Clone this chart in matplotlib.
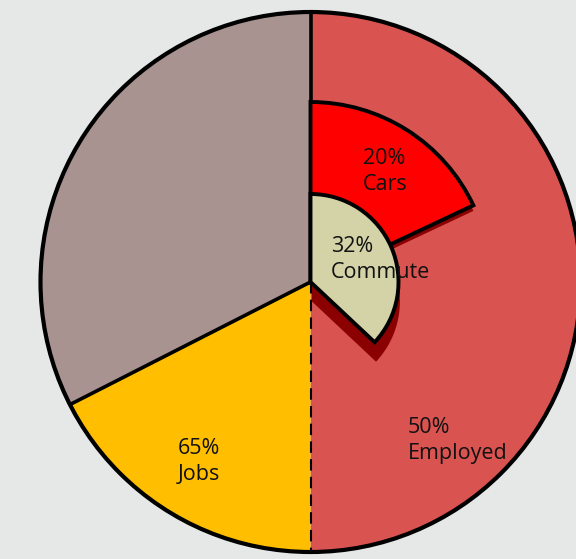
import numpy as np
import matplotlib.pyplot as plt
from matplotlib import patheffects

# Outer ring (share of the full circle)
outer_names = ['Employed', 'Jobs', 'Other']
outer_values = [50, 17.5, 32.5]
outer_pct = ['50%', '65%', '']
outer_colors = ['#d95350', '#ffbf00', '#a89391']

# Inner highlight wedges (angular share of the circle as drawn)
inner_names = ['Cars', 'Commute']
inner_values = [18, 37]
inner_pct = ['20%', '32%']
inner_colors = ['#ff0000', '#d3d3a7']

bg = '#e6e8e7'
fig = plt.figure(figsize=(5.76, 5.59), dpi=100, facecolor=bg)
ax = fig.add_axes([0, 0, 1, 1])
ax.set_facecolor(bg)

cx, cy, R = 310.5, 277, 270
inner_r = [180, 88]
shadow_off = [(0, -4), (1, -14)]

wedges, _ = ax.pie(outer_values, colors=outer_colors, startangle=90,
                   counterclock=False, radius=R, center=(cx, cy),
                   wedgeprops=dict(linewidth=0))

# outline of the big circle
ax.add_patch(plt.Circle((cx, cy), R, fill=False, lw=3, ec='black', zorder=3))

# radial boundaries
bounds = 90 - 360 * np.cumsum([0] + outer_values[:-1]) / sum(outer_values)
for i, a in enumerate(bounds):
    if i == 1:
        continue  # bottom one is dashed, drawn later
    t = np.deg2rad(a)
    ax.plot([cx, cx + R * np.cos(t)], [cy, cy + R * np.sin(t)],
            color='black', lw=2.6, solid_capstyle='butt', zorder=3)

# inner wedges with drop shadow
for v, r, c, off in zip(inner_values, inner_r, inner_colors, shadow_off):
    w, _ = ax.pie([v, 100 - v], colors=[c, 'none'], startangle=90,
                  counterclock=False, radius=r, center=(cx, cy),
                  wedgeprops=dict(linewidth=2.8, edgecolor='black'))
    w[1].remove()
    w[0].set_zorder(4)
    w[0].set_path_effects([
        patheffects.SimplePatchShadow(offset=off, shadow_rgbFace='#8b0000', alpha=1),
        patheffects.Normal()])

# dashed boundary between Employed and Jobs
t = np.deg2rad(bounds[1])
ax.plot([cx, cx + R * np.cos(t)], [cy, cy + R * np.sin(t)],
        color='black', lw=1.5, linestyle=(0, (5.5, 3)), zorder=5)

# labels (anchored at the baseline of the second line)
font = dict(family='Open Sans', fontsize=15.5, color='#111111',
            ha='left', va='baseline', linespacing=1.3, zorder=6)
ax.text(408, 559 - 459, outer_pct[0] + '\n' + outer_names[0], **font)
ax.text(178, 559 - 480, outer_pct[1] + '\n' + outer_names[1], **font)
ax.text(363, 559 - 190, inner_pct[0] + '\n' + inner_names[0], **font)
ax.text(331, 559 - 278, inner_pct[1] + '\n' + inner_names[1], **font)

ax.set_aspect('equal')
ax.set_xlim(0, 576)
ax.set_ylim(0, 559)
ax.axis('off')

fig.savefig('out.png', dpi=100, facecolor=bg)
